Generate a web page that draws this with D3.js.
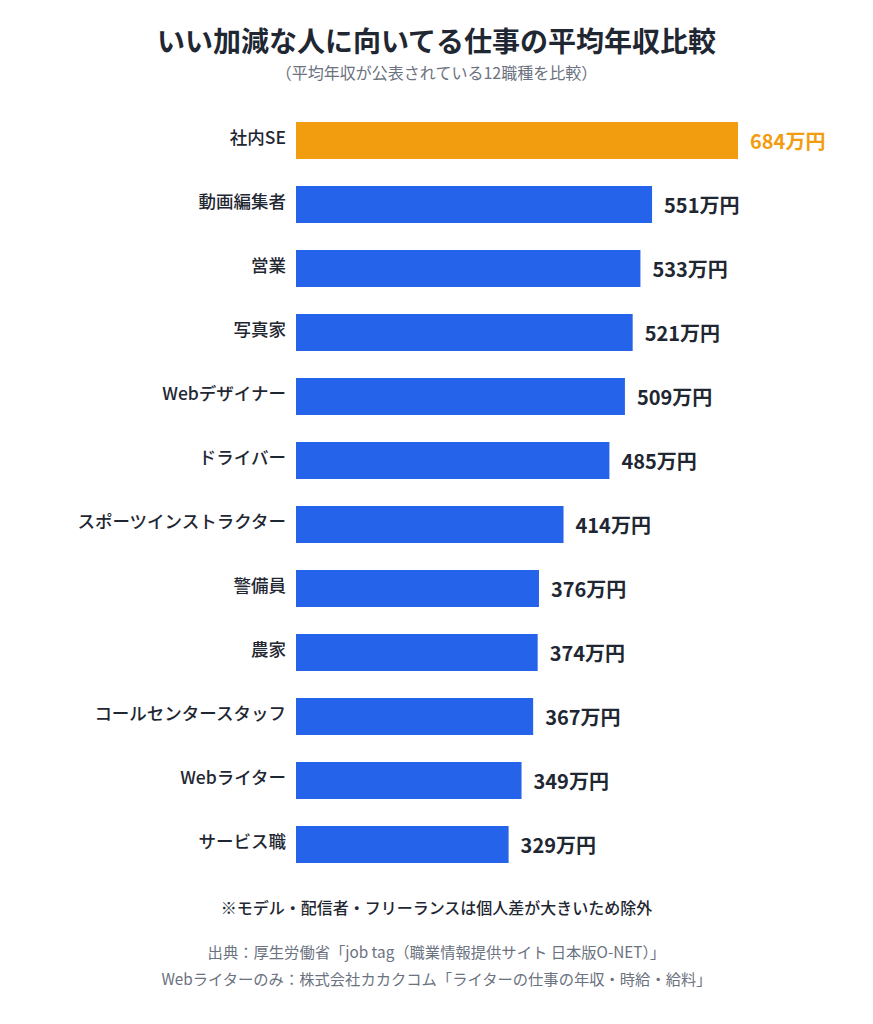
<!DOCTYPE html>
<html>
<head>
<meta charset="utf-8">
<script src="https://cdn.jsdelivr.net/npm/d3@7"></script>
<style>
  body { margin: 0; background: #fff; }
  svg { display: block; font-family: "Noto Sans CJK JP", "Noto Sans", sans-serif; }
</style>
</head>
<body>
<svg id="viz" width="873" height="1024"></svg>
<script>
// data
var jobs = ["社内SE", "動画編集者", "営業", "写真家", "Webデザイナー", "ドライバー",
  "スポーツインストラクター", "警備員", "農家", "コールセンタースタッフ", "Webライター", "サービス職"];
var salary = [684, 551, 533, 521, 509, 485, 414, 376, 374, 367, 349, 329];
var highlight = ["社内SE"];

var svg = d3.select("#viz");
var W = 873;

var x = d3.scaleLinear().domain([0, 684]).range([296, 738]);
var y = d3.scaleBand().domain(jobs).range([122, 863])
  .paddingInner(27 / 64).paddingOuter(0);

var ORANGE = "#f29d0f", BLUE = "#2563eb", DARK = "#1f2733", GRAY = "#6b7280";

// titles
svg.append("text").attr("x", W / 2).attr("y", 52)
  .attr("text-anchor", "middle").attr("font-size", 28).attr("font-weight", 700)
  .attr("fill", DARK).text("いい加減な人に向いてる仕事の平均年収比較");
svg.append("text").attr("x", W / 2).attr("y", 79)
  .attr("text-anchor", "middle").attr("font-size", 16)
  .attr("fill", GRAY).text("（平均年収が公表されている12職種を比較）");

var rows = jobs.map(function (j, i) { return { job: j, val: salary[i] }; });

// bars
svg.selectAll(".bar").data(rows).enter().append("rect")
  .attr("class", "bar")
  .attr("x", x(0))
  .attr("y", function (d) { return y(d.job); })
  .attr("width", function (d) { return x(d.val) - x(0); })
  .attr("height", y.bandwidth())
  .attr("fill", function (d) { return highlight.indexOf(d.job) >= 0 ? ORANGE : BLUE; });

// category labels
var yAxis = d3.axisLeft(y).tickSize(0).tickPadding(10);
var gy = svg.append("g").attr("class", "y axis")
  .attr("transform", "translate(" + x(0) + ",-2)").call(yAxis);
gy.select(".domain").remove();
gy.selectAll("text").attr("font-size", 17.5).attr("font-weight", 500)
  .attr("fill", DARK).attr("font-family", "'Noto Sans CJK JP', sans-serif");

// value labels
svg.selectAll(".val").data(rows).enter().append("text")
  .attr("class", "val")
  .attr("x", function (d) { return x(d.val) + 12; })
  .attr("y", function (d) { return y(d.job) + y.bandwidth() / 2 + 1; })
  .attr("dy", "0.35em")
  .attr("font-size", 20).attr("font-weight", 700)
  .attr("fill", function (d) { return highlight.indexOf(d.job) >= 0 ? ORANGE : DARK; })
  .text(function (d) { return d.val + "万円"; });

// notes
svg.append("text").attr("x", W / 2).attr("y", 914)
  .attr("text-anchor", "middle").attr("font-size", 16).attr("font-weight", 500)
  .attr("fill", DARK).text("※モデル・配信者・フリーランスは個人差が大きいため除外");
svg.append("text").attr("x", W / 2).attr("y", 958)
  .attr("text-anchor", "middle").attr("font-size", 15.3)
  .attr("fill", GRAY).text("出典：厚生労働省「job tag（職業情報提供サイト 日本版O-NET）」");
svg.append("text").attr("x", W / 2).attr("y", 985)
  .attr("text-anchor", "middle").attr("font-size", 15.3)
  .attr("fill", GRAY).text("Webライターのみ：株式会社カカクコム「ライターの仕事の年収・時給・給料」");
</script>
</body>
</html>
